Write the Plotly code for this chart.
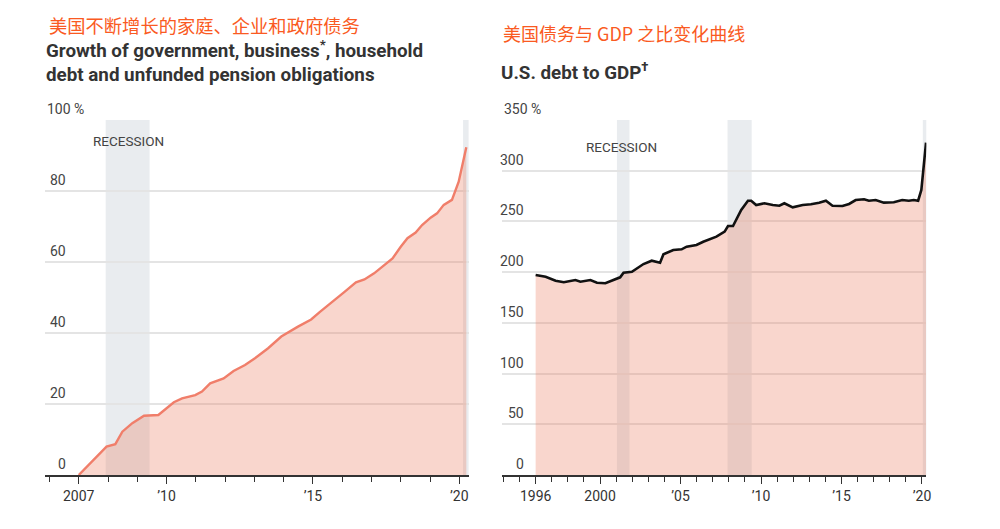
import plotly.graph_objects as go

# ---------------- data ----------------
left_years = [2007.0, 2007.95, 2008.25, 2008.49, 2008.83, 2009.23, 2009.72, 2009.97, 2010.25,
              2010.53, 2010.98, 2011.21, 2011.49, 2011.95, 2012.29, 2012.68, 2013.02, 2013.47,
              2013.92, 2014.49, 2014.94, 2015.23, 2015.68, 2016.08, 2016.47, 2016.76, 2017.09,
              2017.38, 2017.72, 2018.0, 2018.23, 2018.51, 2018.73, 2019.02, 2019.24, 2019.47,
              2019.75, 2019.98, 2020.09, 2020.24]
left_values = [0.0, 8.0, 8.7, 12.2, 14.6, 16.7, 16.9, 18.5, 20.5,
               21.6, 22.5, 23.5, 25.8, 27.2, 29.3, 31.0, 32.9, 35.7,
               39.0, 41.8, 43.8, 45.9, 48.8, 51.6, 54.3, 55.1, 56.8,
               58.7, 61.0, 64.3, 66.7, 68.3, 70.4, 72.5, 73.7, 76.1,
               77.5, 82.6, 86.8, 92.3]

right_years = [1996.0, 1996.62, 1997.24, 1997.75, 1998.47, 1998.78, 1999.4, 1999.81, 2000.33,
               2000.94, 2001.25, 2001.46, 2001.98, 2002.7, 2003.21, 2003.73, 2003.94, 2004.55,
               2005.07, 2005.38, 2005.99, 2006.41, 2007.23, 2007.74, 2007.95, 2008.26, 2008.77,
               2009.19, 2009.39, 2009.7, 2010.21, 2010.73, 2011.14, 2011.45, 2011.97, 2012.59,
               2013.1, 2013.61, 2014.03, 2014.44, 2015.06, 2015.47, 2015.88, 2016.4, 2016.7,
               2017.12, 2017.63, 2018.25, 2018.77, 2019.18, 2019.49, 2019.76, 2019.96, 2020.25]
right_values = [197.2, 195.5, 191.6, 190.0, 192.2, 190.6, 192.2, 189.6, 189.0,
                192.9, 194.9, 199.5, 200.4, 208.0, 211.3, 209.3, 217.6, 221.8,
                222.5, 225.1, 226.8, 230.0, 235.0, 239.9, 245.5, 245.5, 261.3,
                270.4, 270.4, 266.2, 267.9, 266.2, 265.5, 267.9, 263.9, 266.2,
                266.9, 268.5, 270.4, 265.5, 265.2, 267.2, 271.1, 271.8, 270.4,
                271.1, 268.5, 268.9, 271.1, 270.4, 271.1, 270.4, 281.0, 327.6]

left_recessions = [(2007.92, 2009.42), (2020.13, 2020.33)]
right_recessions = [(2001.05, 2001.83), (2007.92, 2009.42), (2020.05, 2020.3)]

left_ytick_vals = [0, 20, 40, 60, 80, 100]
right_ytick_vals = [0, 50, 100, 150, 200, 250, 300, 350]
left_xtick_vals = [2007, 2010, 2015, 2020]
left_xtick_text = ["2007", "\u201910", "\u201915", "\u201920"]
right_xtick_vals = [1996, 2000, 2005, 2010, 2015, 2020]
right_xtick_text = ["1996", "2000", "\u201905", "\u201910", "\u201915", "\u201920"]

left_cn_title = "美国不断增长的家庭、企业和政府债务"
left_title = ["Growth of government, business<sup>*</sup>, household",
              "debt and unfunded pension obligations"]
right_cn_title = "美国债务与 GDP 之比变化曲线"
right_title = "U.S. debt to GDP<sup>\u2020</sup>"

# ---------------- style ----------------
W, H = 1000, 529
FONT = "Roboto"
FILL = "rgba(236,120,90,0.30)"
GRAY = "#e9ecef"
GRID = "#e4e4e4"
TXT = "#333333"
CN = "#fa5a22"


def px(v):
    return v / W


def py(v):
    return 1 - v / H


ydom = [py(475), py(120)]
ldom = [px(45), px(471)]
rdom = [px(505), px(931)]

fig = go.Figure()

fig.add_trace(go.Scatter(x=left_years, y=left_values, mode="lines", fill="tozeroy",
                         fillcolor=FILL, line=dict(color="#f07e6a", width=2.4),
                         xaxis="x", yaxis="y", hoverinfo="skip"))
fig.add_trace(go.Scatter(x=right_years, y=right_values, mode="lines", fill="tozeroy",
                         fillcolor=FILL, line=dict(color="#111111", width=2.6),
                         xaxis="x2", yaxis="y2", hoverinfo="skip"))

shapes = []
for a, b in left_recessions:
    shapes.append(dict(type="rect", xref="x", yref="y", x0=a, x1=b, y0=0, y1=100,
                       fillcolor=GRAY, line=dict(width=0), layer="below"))
for a, b in right_recessions:
    shapes.append(dict(type="rect", xref="x2", yref="y2", x0=a, x1=b, y0=0, y1=350,
                       fillcolor=GRAY, line=dict(width=0), layer="below"))

xcommon = dict(showgrid=False, zeroline=False, showline=True, linecolor="#333333", linewidth=1.5,
               ticks="outside", ticklen=7, tickwidth=1.3, tickcolor="#333333",
               tickfont=dict(family=FONT, size=14, color=TXT),
               minor=dict(dtick=1, tick0=2000, ticks="outside", ticklen=5, tickwidth=1.1,
                          tickcolor="#333333", showgrid=False))
ycommon = dict(showgrid=True, gridcolor=GRID, gridwidth=1.5, zeroline=False, showline=False,
               showticklabels=False, ticks="")

fig.update_layout(
    width=W, height=H, margin=dict(l=0, r=0, t=0, b=0),
    paper_bgcolor="white", plot_bgcolor="white", showlegend=False,
    font=dict(family=FONT, color=TXT),
    xaxis=dict(domain=ldom, range=[2005.84, 2020.32], tickvals=left_xtick_vals,
               ticktext=left_xtick_text, anchor="y", **xcommon),
    yaxis=dict(domain=ydom, range=[0, 100], tickvals=left_ytick_vals, anchor="x", **ycommon),
    xaxis2=dict(domain=rdom, range=[1993.94, 2020.27], tickvals=right_xtick_vals,
                ticktext=right_xtick_text, anchor="y2", **xcommon),
    yaxis2=dict(domain=ydom, range=[0, 350], tickvals=right_ytick_vals, anchor="x2", **ycommon),
    shapes=shapes,
)

ann = []
# y tick labels
for vals, yref, right_px, left_px in [(left_ytick_vals, "y", 68, 45), (right_ytick_vals, "y2", 529, 505)]:
    for i, v in enumerate(vals):
        if i == len(vals) - 1:
            ann.append(dict(x=px(left_px), y=v, xref="paper", yref=yref, text=f"{v} %",
                            xanchor="left", yanchor="bottom", showarrow=False, yshift=1,
                            font=dict(family=FONT, size=14, color="#444444")))
        else:
            ann.append(dict(x=px(right_px), y=v, xref="paper", yref=yref, text=str(v),
                            xanchor="right", yanchor="bottom", showarrow=False, yshift=1,
                            font=dict(family=FONT, size=14, color="#444444")))

# recession labels
ann.append(dict(x=px(91), y=py(141), xref="paper", yref="paper", text="RECESSION",
                xanchor="left", yanchor="middle", showarrow=False,
                font=dict(family=FONT, size=13.5, color="#444444")))
ann.append(dict(x=px(587), y=py(147), xref="paper", yref="paper", text="RECESSION",
                xanchor="left", yanchor="middle", showarrow=False,
                font=dict(family=FONT, size=13.5, color="#444444")))

# titles
ann.append(dict(x=px(47), y=py(25), xref="paper", yref="paper", text=left_cn_title,
                xanchor="left", yanchor="middle", showarrow=False,
                font=dict(family="Noto Sans CJK SC", size=18.3, color=CN)))
ann.append(dict(x=px(504), y=py(33), xref="paper", yref="paper", text=right_cn_title,
                xanchor="left", yanchor="middle", showarrow=False,
                font=dict(family="Noto Sans CJK SC", size=18, color=CN)))
for i, t in enumerate(left_title):
    ann.append(dict(x=px(44), y=py(49 + 26 * i), xref="paper", yref="paper", text=f"<b>{t}</b>",
                    xanchor="left", yanchor="middle", showarrow=False,
                    font=dict(family=FONT, size=18.8, color=TXT)))
ann.append(dict(x=px(502), y=py(72), xref="paper", yref="paper", text=f"<b>{right_title}</b>",
                xanchor="left", yanchor="middle", showarrow=False,
                font=dict(family=FONT, size=18.8, color=TXT)))

fig.update_layout(annotations=ann)

fig.write_html("out.html", config={"displayModeBar": False},
               post_script="document.body.style.margin='0';")
